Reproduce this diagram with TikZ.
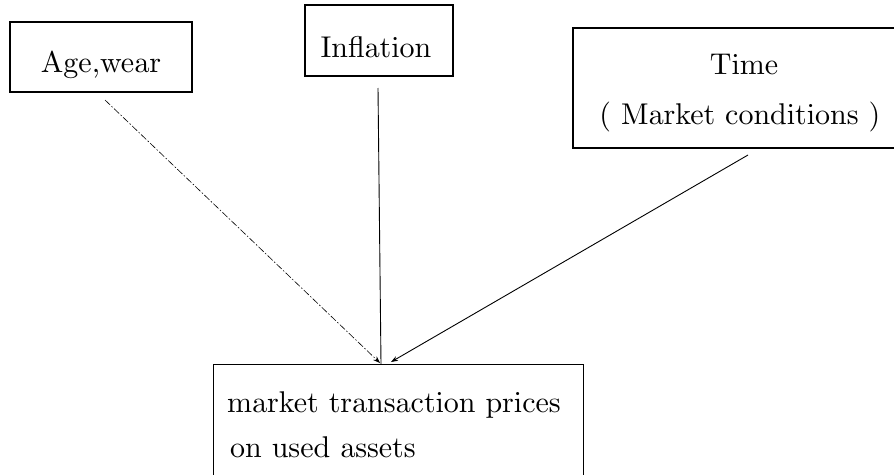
\documentclass[tikz,border=0pt]{standalone}
\usetikzlibrary{arrows.meta}
\font\bigrm=cmr10 at 30pt
\begin{document}
\begin{tikzpicture}[x=1pt,y=-1pt,
  box/.style={draw, line width=1.1pt, inner sep=0pt},
  txt/.style={inner sep=0pt, anchor=base, font=\bigrm},
  conn/.style={line width=0.9pt},
  tip/.style={-{Stealth[length=7pt,width=5pt]}}]
\useasboundingbox (0,0) rectangle (894,474);
\clip (0,0) rectangle (894,474);
% boxes
\node[box, minimum width=182, minimum height=70] (age) at (101,57) {};
\node[box, minimum width=148, minimum height=71] (infl) at (379,40.5) {};
\node[box, minimum width=337, minimum height=120] (time) at (741.5,88) {};
\node[box, anchor=north west, minimum width=370, minimum height=140] (mkt) at (213,364) {};
% texts
\node[txt] (ageT) at (101,72) {Age,wear};
\node[txt] (inflT) at (376,57) {Inflation};
\node[txt] (timeT) at (744,74) {Time};
\node[txt] (timeM) at (740,124) {( Market conditions )};
\node[txt, anchor=base west] (mktA) at (227,412) {market transaction prices};
\node[txt, anchor=base west] (mktB) at (230,457) {on used assets};
% connectors
\coordinate (a1) at (105,100);
\coordinate (a2) at (380,363);
\coordinate (i1) at (378,88);
\coordinate (i2) at (381,364);
\coordinate (t1) at (748,155);
\coordinate (t2) at (391,362);
\draw[conn, line width=0.6pt, dash pattern=on 7pt off 2pt on 1.5pt off 2pt, tip] (a1) -- (a2);
\draw[conn] (i1) -- (i2);
\draw[conn, tip] (t1) -- (t2);
\end{tikzpicture}
\end{document}
